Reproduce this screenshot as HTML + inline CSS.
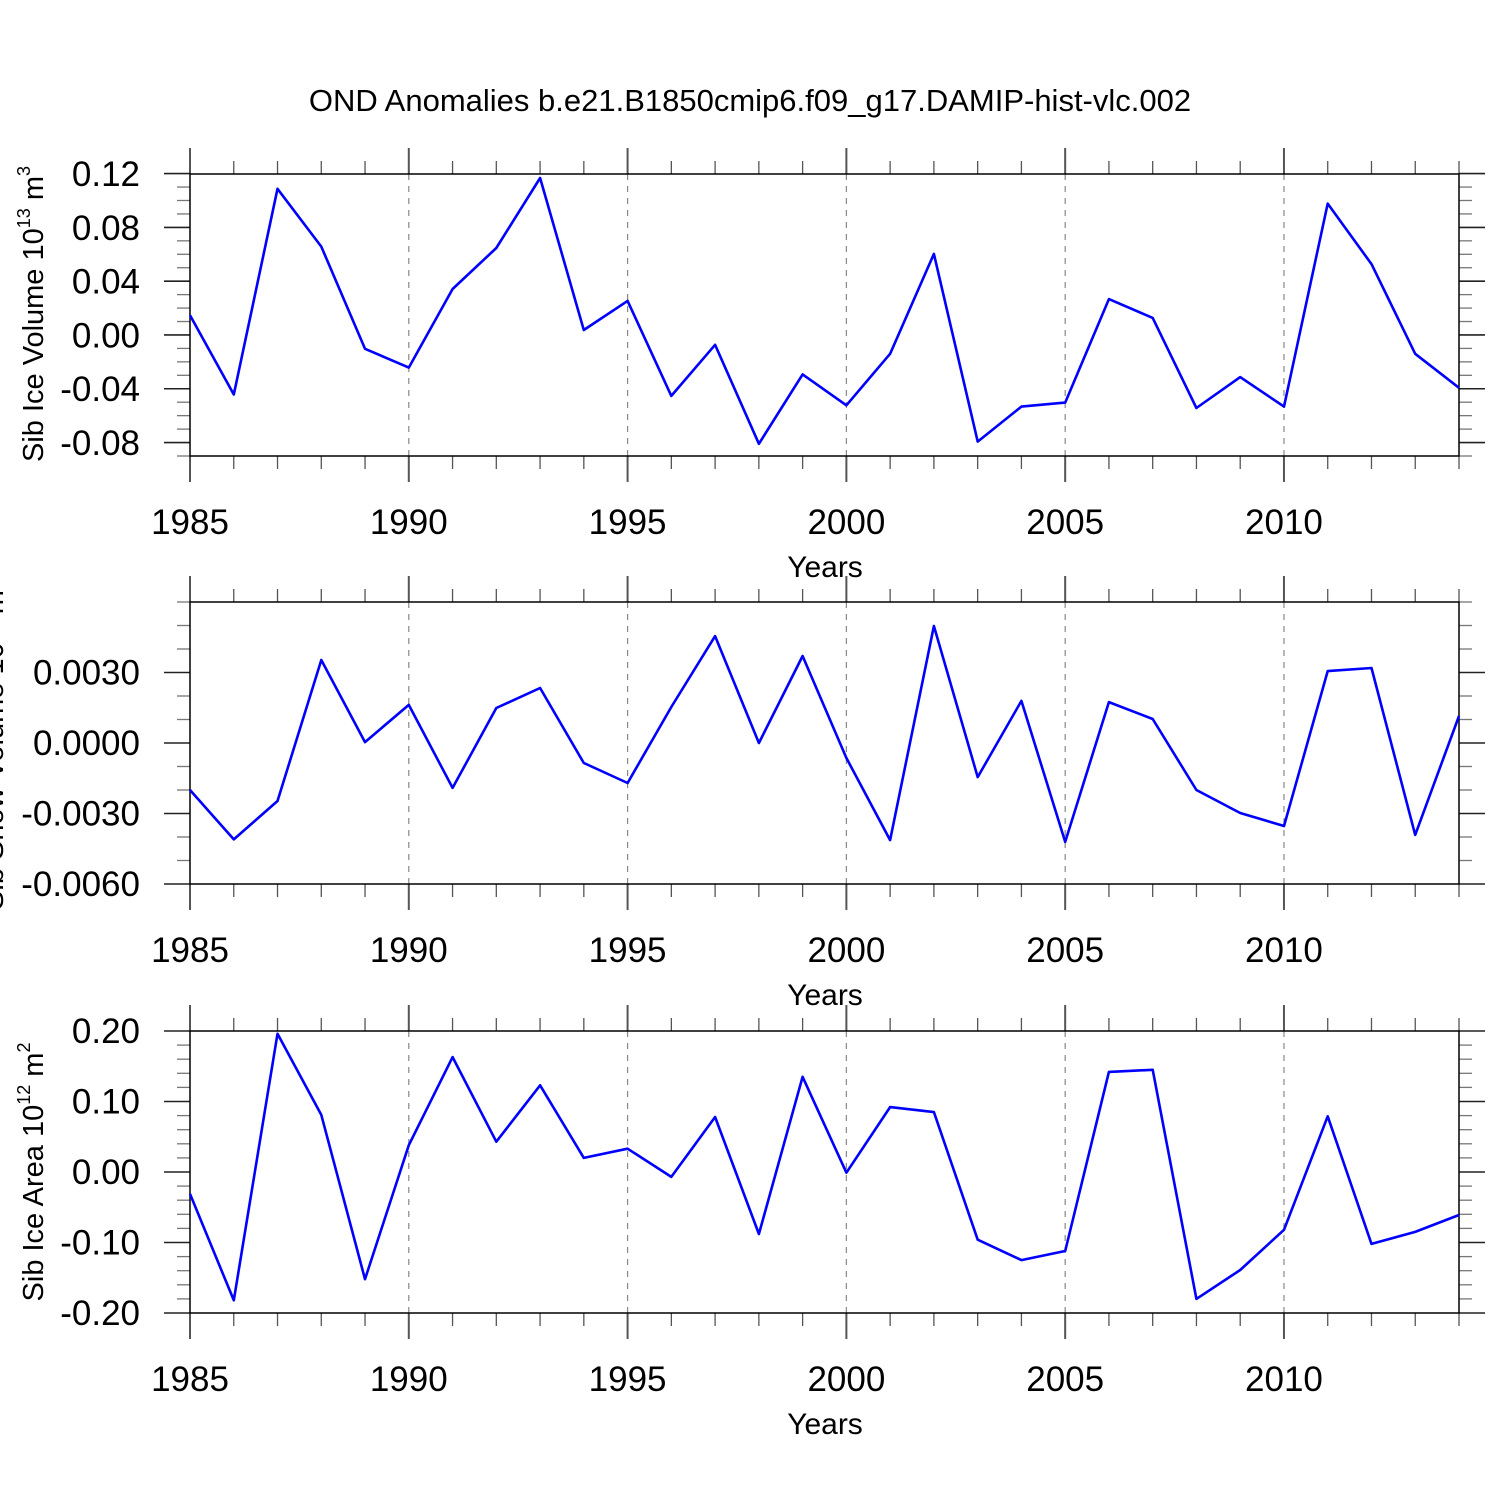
<!DOCTYPE html>
<html><head><meta charset="utf-8"><style>
html,body{margin:0;padding:0;background:#fff;}
svg{display:block;font-family:"Liberation Sans",Helvetica,Arial,sans-serif;}
</style></head><body>
<svg id="chart" width="1500" height="1500" viewBox="0 0 1500 1500" xmlns="http://www.w3.org/2000/svg">
<text x="750" y="111" text-anchor="middle" font-size="31">OND Anomalies b.e21.B1850cmip6.f09_g17.DAMIP-hist-vlc.002</text>
</svg>
<script>
const years = [1985,1986,1987,1988,1989,1990,1991,1992,1993,1994,1995,1996,1997,1998,1999,2000,2001,2002,2003,2004,2005,2006,2007,2008,2009,2010,2011,2012,2013,2014];
const xTickLabels = [1985,1990,1995,2000,2005,2010];
const iceVolume = [0.015,-0.044,0.109,0.066,-0.010,-0.024,0.0345,0.065,0.117,0.004,0.0256,-0.045,-0.007,-0.0806,-0.029,-0.052,-0.0137,0.0606,-0.079,-0.053,-0.050,0.027,0.013,-0.054,-0.031,-0.053,0.098,0.053,-0.0137,-0.039];
const snowVolume = [-0.0020,-0.0041,-0.00247,0.00353,0.00004,0.00162,-0.00191,0.00149,0.00234,-0.00085,-0.0017,0.00153,0.00455,0,0.0037,-0.00064,-0.00413,0.00498,-0.00145,0.00179,-0.00421,0.00174,0.00102,-0.0020,-0.00298,-0.00353,0.00306,0.00319,-0.00391,0.00115];
const iceArea = [-0.031,-0.182,0.196,0.081,-0.152,0.038,0.163,0.043,0.123,0.020,0.033,-0.007,0.078,-0.088,0.135,-0.001,0.092,0.085,-0.096,-0.125,-0.112,0.142,0.145,-0.180,-0.139,-0.082,0.079,-0.102,-0.085,-0.061];
const volTicks = ["0.12","0.08","0.04","0.00","-0.04","-0.08"];
const snowTicks = ["0.0030","0.0000","-0.0030","-0.0060"];
const areaTicks = ["0.20","0.10","0.00","-0.10","-0.20"];

const NS="http://www.w3.org/2000/svg";
const svg=document.getElementById('chart');
function mk(tag,attrs,parent){const e=document.createElementNS(NS,tag);for(const k in attrs)e.setAttribute(k,attrs[k]);(parent||svg).appendChild(e);return e;}
const X0=190,X1=1459;
function xs(yr){return X0+(yr-1985)*(X1-X0)/(2014-1985);}

function panel(name,top,bot,ymin,ymax,ticks,minorStep,data,ytitleHTML,ytitleX,ytitleY){
  const g=mk('g',{});
  
  
  const ys=v=>bot-(v-ymin)*(bot-top)/(ymax-ymin);
  for(const t of xTickLabels){ if(t===1985) continue;
    const l=mk('line',{x1:xs(t),x2:xs(t),y1:top,y2:bot,stroke:'#888','stroke-width':1.2,'stroke-dasharray':'6,6'},g);
    
    
  }
  for(let yr=1985;yr<=2014;yr++){
    const major=(yr%5===0), len=major?26:13, x=xs(yr);
    mk('line',{x1:x,x2:x,y1:top,y2:top-len,stroke:'#555','stroke-width':major?2:1.3},g);
    mk('line',{x1:x,x2:x,y1:bot,y2:bot+len,stroke:'#555','stroke-width':major?2:1.3},g);
  }
  const nMinor=Math.round((ymax-ymin)/minorStep);
  const majVals=ticks.map(Number);
  for(let i=0;i<=nMinor;i++){
    const v=ymin+i*minorStep; const y=ys(v);
    if(y<top-0.5||y>bot+0.5) continue;
    const major=majVals.some(m=>Math.abs(m-v)<minorStep*0.1), len=major?26:13;
    mk('line',{x1:X0,x2:X0-len,y1:y,y2:y,stroke:major?'#222':'#777','stroke-width':major?1.6:1.3},g);
    mk('line',{x1:X1,x2:X1+len,y1:y,y2:y,stroke:major?'#222':'#777','stroke-width':major?1.6:1.3},g);
  }
  for(const t of ticks){
    const tx=mk('text',{x:140,y:ys(Number(t))+12,'text-anchor':'end','font-size':35},g);
    tx.textContent=t;
    
    
  }
  for(const t of xTickLabels){
    const tx=mk('text',{x:xs(t),y:bot+78,'text-anchor':'middle','font-size':35},g);
    tx.textContent=t;
    
    
  }
  const xt=mk('text',{x:825,y:bot+121,'text-anchor':'middle','font-size':30},g);
  xt.textContent='Years';
  
  
  const yt=mk('text',{x:0,y:0,'text-anchor':'middle','font-size':29,transform:`translate(${ytitleX},${ytitleY}) rotate(-90)`},g);
  yt.innerHTML=ytitleHTML;
  
  
  const box=mk('rect',{x:X0,y:top,width:X1-X0,height:bot-top,fill:'none',stroke:'#000','stroke-width':1.5},g);
  
  
  const pts=data.map((v,i)=>xs(years[i]).toFixed(1)+','+ys(v).toFixed(1)).join(' ');
  const pl=mk('polyline',{points:pts,fill:'none',stroke:'#0000ff','stroke-width':2.6,'stroke-linejoin':'round'},g);
  
  
}
panel('panel-ice-volume',174,456,-0.0897,0.12,volTicks,0.01,iceVolume,
  'Sib Ice Volume 10<tspan font-size="18" dy="-13">13</tspan><tspan dy="13"> m</tspan><tspan font-size="18" dy="-13">3</tspan>',43,314);
panel('panel-snow-volume',602,884,-0.006,0.006,snowTicks,0.001,snowVolume,
  'Sib Snow Volume 10<tspan font-size="18" dy="-13">13</tspan><tspan dy="13"> m</tspan><tspan font-size="18" dy="-13">3</tspan>',3,745);
panel('panel-ice-area',1031,1313,-0.2,0.2,areaTicks,0.02,iceArea,
  'Sib Ice Area 10<tspan font-size="18" dy="-13">12</tspan><tspan dy="13"> m</tspan><tspan font-size="18" dy="-13">2</tspan>',43,1172);
</script>
</body></html>
